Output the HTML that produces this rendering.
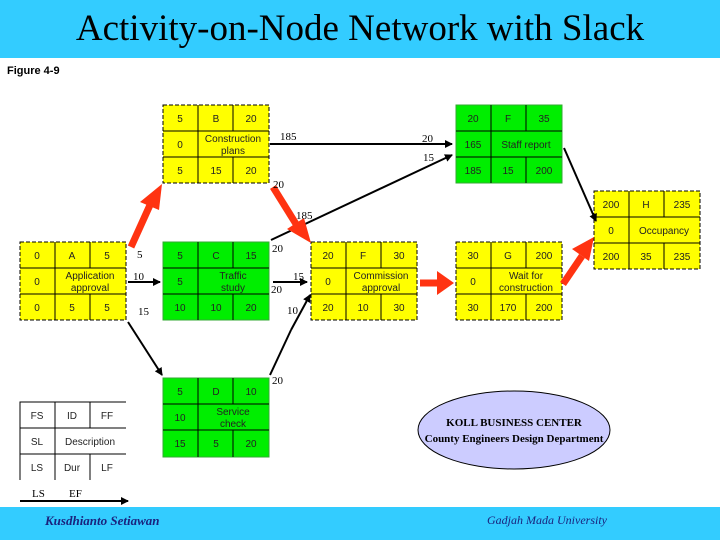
<!DOCTYPE html>
<html><head><meta charset="utf-8"><style>
html,body{margin:0;padding:0;background:#fff;}
svg{display:block;}
.t{font-family:"Liberation Sans",sans-serif;font-size:10px;fill:#222;text-anchor:middle;}
.l{font-family:"Liberation Serif",serif;font-size:11px;fill:#000;}
</style></head><body>
<svg width="720" height="540" viewBox="0 0 720 540" xmlns="http://www.w3.org/2000/svg">
<defs>
<marker id="ah" markerWidth="8" markerHeight="8" refX="7" refY="4" orient="auto" markerUnits="userSpaceOnUse"><path d="M0,0 L8,4 L0,8 z" fill="#000"/></marker>
</defs>
<rect x="0" y="0" width="720" height="58" fill="#33ccff"/>
<text x="360" y="40" text-anchor="middle" font-family="Liberation Serif,serif" font-size="37" fill="#000">Activity-on-Node Network with Slack</text>
<text x="7" y="74" font-family="Liberation Sans,sans-serif" font-size="11" font-weight="bold" fill="#000">Figure 4-9</text>
<rect x="0" y="507" width="720" height="33" fill="#33ccff"/>
<text x="45" y="525" font-family="Liberation Serif,serif" font-size="13" font-style="italic" font-weight="bold" fill="#1a237e">Kusdhianto Setiawan</text>
<text x="487" y="524" font-family="Liberation Serif,serif" font-size="12" font-style="italic" fill="#1a237e">Gadjah Mada University</text>

<g stroke="#000" stroke-width="1">
<rect x="20" y="242" width="106" height="78" fill="#ffff00" stroke-dasharray="4,2"/>
<path d="M20,268H126M20,294H126M55,242V268M90,242V268M55,294V320M90,294V320M55,268V294" fill="none"/>
<rect x="163" y="105" width="106" height="78" fill="#ffff00" stroke-dasharray="4,2"/>
<path d="M163,131H269M163,157H269M198,105V183M233,105V131M233,157V183" fill="none"/>
<rect x="163" y="242" width="106" height="78" fill="#00ee00" stroke="#33aa33"/>
<path d="M163,268H269M163,294H269M198,242V320M233,242V268M233,294V320" fill="none"/>
<rect x="163" y="378" width="106" height="79" fill="#00ee00" stroke="#33aa33"/>
<path d="M163,404H269M163,430H269M198,378V457M233,378V404M233,430V457" fill="none"/>
<rect x="311" y="242" width="106" height="78" fill="#ffff00" stroke-dasharray="4,2"/>
<path d="M311,268H417M311,294H417M346,242V320M381,242V268M381,294V320" fill="none"/>
<rect x="456" y="242" width="106" height="78" fill="#ffff00" stroke-dasharray="4,2"/>
<path d="M456,268H562M456,294H562M491,242V320M526,242V268M526,294V320" fill="none"/>
<rect x="456" y="105" width="106" height="78" fill="#00ee00" stroke="#33aa33"/>
<path d="M456,131H562M456,157H562M491,105V183M526,105V131M526,157V183" fill="none"/>
<rect x="594" y="191" width="106" height="78" fill="#ffff00" stroke-dasharray="4,2"/>
<path d="M594,217H700M594,243H700M629,191V269M664,191V217M664,243V269" fill="none"/>
<path d="M20,480V402H126M20,428H126M20,454H126M55,402V480M90,402V428M90,454V480" fill="none"/>
</g>

<g class="t">
<text x="37" y="259">0</text><text x="72" y="259">A</text><text x="107" y="259">5</text>
<text x="37" y="285">0</text><text x="90" y="279">Application</text><text x="90" y="291">approval</text>
<text x="37" y="311">0</text><text x="72" y="311">5</text><text x="107" y="311">5</text>

<text x="180" y="122">5</text><text x="216" y="122">B</text><text x="251" y="122">20</text>
<text x="180" y="148">0</text><text x="233" y="142">Construction</text><text x="233" y="154">plans</text>
<text x="180" y="174">5</text><text x="216" y="174">15</text><text x="251" y="174">20</text>

<text x="180" y="259">5</text><text x="216" y="259">C</text><text x="251" y="259">15</text>
<text x="180" y="285">5</text><text x="233" y="279">Traffic</text><text x="233" y="291">study</text>
<text x="180" y="311">10</text><text x="216" y="311">10</text><text x="251" y="311">20</text>

<text x="180" y="395">5</text><text x="216" y="395">D</text><text x="251" y="395">10</text>
<text x="180" y="421">10</text><text x="233" y="415">Service</text><text x="233" y="427">check</text>
<text x="180" y="447">15</text><text x="216" y="447">5</text><text x="251" y="447">20</text>

<text x="328" y="259">20</text><text x="363" y="259">F</text><text x="399" y="259">30</text>
<text x="328" y="285">0</text><text x="381" y="279">Commission</text><text x="381" y="291">approval</text>
<text x="328" y="311">20</text><text x="363" y="311">10</text><text x="399" y="311">30</text>

<text x="473" y="259">30</text><text x="508" y="259">G</text><text x="544" y="259">200</text>
<text x="473" y="285">0</text><text x="526" y="279">Wait for</text><text x="526" y="291">construction</text>
<text x="473" y="311">30</text><text x="508" y="311">170</text><text x="544" y="311">200</text>

<text x="473" y="122">20</text><text x="508" y="122">F</text><text x="544" y="122">35</text>
<text x="473" y="148">165</text><text x="526" y="148">Staff report</text>
<text x="473" y="174">185</text><text x="508" y="174">15</text><text x="544" y="174">200</text>

<text x="611" y="208">200</text><text x="646" y="208">H</text><text x="682" y="208">235</text>
<text x="611" y="234">0</text><text x="664" y="234">Occupancy</text>
<text x="611" y="260">200</text><text x="646" y="260">35</text><text x="682" y="260">235</text>

<text x="37" y="419">FS</text><text x="72" y="419">ID</text><text x="107" y="419">FF</text>
<text x="37" y="445">SL</text><text x="90" y="445">Description</text>
<text x="37" y="471">LS</text><text x="72" y="471">Dur</text><text x="107" y="471">LF</text>
</g>
<text x="32" y="497" class="l">LS</text><text x="69" y="497" class="l">EF</text>
<line x1="20" y1="501" x2="128" y2="501" stroke="#000" stroke-width="2" marker-end="url(#ah)"/>

<g stroke="#000" stroke-width="2" fill="none" marker-end="url(#ah)">
<line x1="128" y1="282" x2="160" y2="282"/>
<line x1="128" y1="322" x2="162" y2="375"/>
<line x1="273" y1="282" x2="307" y2="282"/>
<line x1="291" y1="330" x2="310" y2="295"/>
<line x1="271" y1="240" x2="452" y2="155"/>
<line x1="270" y1="144" x2="452" y2="144"/>
<line x1="564" y1="148" x2="596" y2="221"/>
</g>
<line x1="270" y1="375" x2="291" y2="330" stroke="#000" stroke-width="2"/>

<g stroke="#ff3311" stroke-width="7" fill="#ff3311">
<line x1="131" y1="247" x2="150" y2="205"/>
<line x1="273" y1="187" x2="296" y2="224"/>
<line x1="420" y1="283" x2="440" y2="283"/>
<line x1="563" y1="284" x2="582" y2="256"/>
</g>
<g fill="#ff3311">
<polygon points="162,184 140,202 159,210"/>
<polygon points="311,243 287,229 304,218"/>
<polygon points="454,283 437,271 437,295"/>
<polygon points="594,237 572,249 589,261"/>
</g>

<g class="l">
<text x="280" y="140">185</text>
<text x="422" y="142">20</text>
<text x="423" y="161">15</text>
<text x="273" y="188">20</text>
<text x="296" y="219">185</text>
<text x="272" y="252">20</text>
<text x="137" y="258">5</text>
<text x="133" y="280">10</text>
<text x="293" y="280">15</text>
<text x="271" y="293">20</text>
<text x="138" y="315">15</text>
<text x="287" y="314">10</text>
<text x="272" y="384">20</text>
</g>

<ellipse cx="514" cy="430" rx="96" ry="39" fill="#ccccff" stroke="#000" stroke-width="1"/>
<text x="514" y="426" text-anchor="middle" font-family="Liberation Serif,serif" font-size="11" font-weight="bold">KOLL BUSINESS CENTER</text>
<text x="514" y="442" text-anchor="middle" font-family="Liberation Serif,serif" font-size="11" font-weight="bold">County Engineers Design Department</text>
</svg>
</body></html>
